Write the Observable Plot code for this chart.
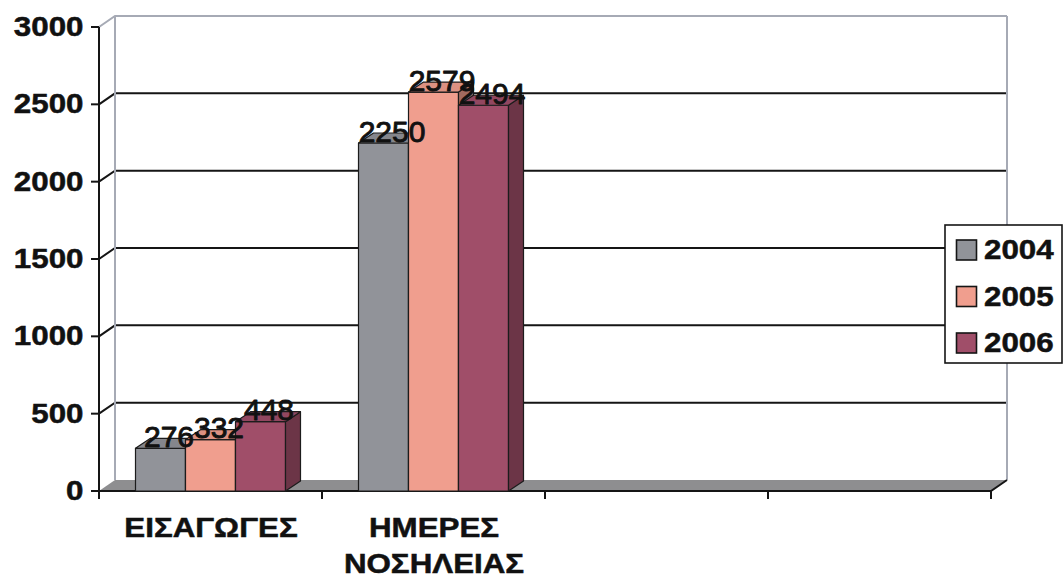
<!DOCTYPE html>
<html>
<head>
<meta charset="utf-8">
<script src="https://cdn.jsdelivr.net/npm/d3@7"></script>
<script src="https://cdn.jsdelivr.net/npm/@observablehq/plot@0.6"></script>
<style>
  html, body { margin: 0; padding: 0; background: #fff; }
</style>
</head>
<body>
<div id="chart"></div>
<script>
// Category slots along the floor (the last two are left empty)
const categories = ["ΕΙΣΑΓΩΓΕΣ", "ΗΜΕΡΕΣ\nΝΟΣΗΛΕΙΑΣ", "", " "];
const years = ["2004", "2005", "2006"];
const values2004 = [276, 2250];
const values2005 = [332, 2579];
const values2006 = [448, 2494];
const yTicks = [0, 500, 1000, 1500, 2000, 2500, 3000];
const yearColors = ["#919399", "#f09e8e", "#a04e69"];

const series = [values2004, values2005, values2006];
const rows = years.flatMap((year, k) =>
  series[k].map((value, i) => ({category: categories[i], year, k, value}))
);

// 3D look: offset of the back wall and of the column depth, in pixels
const wall = {dx: 16, dy: 11};
const col = {dx: 15, dy: 10};
const barWidth = 50;
// bold labels use a slightly widened Arial-like face
const wideScale = 1.16;

function bandOf(x) {
  const b = x.bandwidth;
  if (typeof b === "function") return b();
  if (typeof b === "number") return b;
  return x(categories[1]) - x(categories[0]);
}

// Back wall, side wall, gridlines, floor and axis lines
function scene(index, {x, y}) {
  const g = d3.create("svg:g");
  const bw = bandOf(x);
  const x0 = x(categories[0]);
  const x1 = x(categories[categories.length - 1]) + bw;
  const yb = y(0), yt = y(yTicks[yTicks.length - 1]);
  const wallGray = "#a6aab5";

  g.append("rect")
    .attr("x", x0 + wall.dx).attr("y", yt - wall.dy)
    .attr("width", x1 - x0).attr("height", yb - yt)
    .attr("fill", "#fff");

  for (const v of yTicks.slice(1)) {
    const yy = y(v);
    const top = v === yTicks[yTicks.length - 1];
    g.append("path")
      .attr("d", `M${x0},${yy}L${x0 + wall.dx},${yy - wall.dy}L${x1 + wall.dx},${yy - wall.dy}`)
      .attr("fill", "none")
      .attr("stroke", top ? wallGray : "#151515")
      .attr("stroke-width", 2);
  }
  // side wall corner and right edge of the back wall
  g.append("line")
    .attr("x1", x0 + wall.dx).attr("x2", x0 + wall.dx)
    .attr("y1", yt - wall.dy).attr("y2", yb - wall.dy)
    .attr("stroke", wallGray).attr("stroke-width", 2);
  g.append("line")
    .attr("x1", x1 + wall.dx).attr("x2", x1 + wall.dx)
    .attr("y1", yt - wall.dy).attr("y2", yb - wall.dy)
    .attr("stroke", wallGray).attr("stroke-width", 2);

  // floor
  g.append("path")
    .attr("d", `M${x0},${yb}L${x1},${yb}L${x1 + wall.dx},${yb - wall.dy}L${x0 + wall.dx},${yb - wall.dy}Z`)
    .attr("fill", "#8e8e90");
  g.append("path")
    .attr("d", `M${x0},${yb}L${x1},${yb}L${x1 + wall.dx},${yb - wall.dy}`)
    .attr("fill", "none").attr("stroke", "#151515").attr("stroke-width", 2);

  // front value axis and its ticks
  g.append("line")
    .attr("x1", x0).attr("x2", x0)
    .attr("y1", yt).attr("y2", yb + 8)
    .attr("stroke", "#151515").attr("stroke-width", 2);
  for (const v of yTicks) {
    g.append("line")
      .attr("x1", x0 - 8).attr("x2", x0)
      .attr("y1", y(v)).attr("y2", y(v))
      .attr("stroke", "#151515").attr("stroke-width", 2);
  }
  // category boundary ticks
  const bounds = categories.map((c) => x(c)).concat([x1]);
  for (const bx of bounds) {
    g.append("line")
      .attr("x1", bx).attr("x2", bx)
      .attr("y1", yb).attr("y2", yb + 8)
      .attr("stroke", "#151515").attr("stroke-width", 2);
  }
  return g.node();
}

// Columns with front, right side and top faces, drawn left to right
function columns(index, {x, y}) {
  const g = d3.create("svg:g");
  const bw = bandOf(x);
  const yb = y(0);
  const order = rows.slice().sort((a, b) =>
    categories.indexOf(a.category) - categories.indexOf(b.category) || a.k - b.k);
  for (const d of order) {
    const c = yearColors[d.k];
    const l = x(d.category) + bw / 2 + (d.k - 1) * barWidth - barWidth / 2;
    const r = l + barWidth;
    const t = y(d.value);
    const faces = [
      g.append("rect")
        .attr("x", l).attr("y", t).attr("width", barWidth).attr("height", yb - t)
        .attr("fill", c),
      g.append("path")
        .attr("d", `M${r},${yb}L${r + col.dx},${yb - col.dy}L${r + col.dx},${t - col.dy}L${r},${t}Z`)
        .attr("fill", d3.color(c).darker(1.1).formatHex()),
      g.append("path")
        .attr("d", `M${l},${t}L${r},${t}L${r + col.dx},${t - col.dy}L${l + col.dx},${t - col.dy}Z`)
        .attr("fill", d3.color(c).darker(0.25).formatHex())
    ];
    for (const el of faces) {
      el.attr("stroke", "#1c1c1c").attr("stroke-width", 1.2).attr("stroke-linejoin", "round");
    }
  }
  return g.node();
}

// Legend box on the right
function legend() {
  const g = d3.create("svg:g").attr("text-anchor", "start");
  g.append("rect")
    .attr("x", 945).attr("y", 225).attr("width", 117).attr("height", 138)
    .attr("fill", "#fff").attr("stroke", "#151515").attr("stroke-width", 1.6);
  years.forEach((yr, k) => {
    const cy = 250 + k * 46.5;
    g.append("rect")
      .attr("x", 956.5).attr("y", cy - 10).attr("width", 20).attr("height", 20)
      .attr("fill", yearColors[k]).attr("stroke", "#151515").attr("stroke-width", 1.6);
    g.append("text")
      .attr("transform", `translate(984,${cy})`)
      .attr("dy", "0.35em")
      .attr("text-anchor", "start")
      .attr("fill", "#111")
      .text(yr);
  });
  return g.node();
}

const valueMarks = years.map((yr, k) =>
  Plot.text(rows.filter((d) => d.k === k), {
    x: "category",
    y: "value",
    text: (d) => String(d.value),
    dx: (k - 1) * barWidth + 8,
    dy: -2,
    lineAnchor: "bottom",
    fontSize: 30,
    fontWeight: "normal",
    fill: "#111",
    stroke: "#111",
    strokeWidth: 0.9,
    ariaDescription: "value label"
  })
);

const chart = Plot.plot({
  width: 1064,
  height: 577,
  marginLeft: 97,
  marginRight: 72,
  marginTop: 27,
  marginBottom: 86,
  x: {type: "band", domain: categories, padding: 0, axis: null},
  y: {domain: [0, 3000], axis: null},
  style: {
    fontFamily: "'Liberation Sans', Arial, Helvetica, sans-serif",
    fontSize: "27px",
    fontWeight: "bold",
    color: "#111",
    background: "#fff",
    overflow: "visible"
  },
  marks: [
    scene,
    columns,
    ...valueMarks,
    Plot.text(yTicks, {
      y: (d) => d,
      text: (d) => String(d),
      frameAnchor: "left",
      textAnchor: "end",
      dx: -14,
      fill: "#111"
    }),
    Plot.text(categories.slice(0, 2), {
      x: (d) => d,
      text: (d) => d,
      frameAnchor: "bottom",
      lineAnchor: "top",
      dy: 19,
      lineHeight: 1.36,
      fill: "#111"
    }),
    legend
  ]
});

// Widen and slightly embolden the bold labels around their anchors
for (const t of chart.querySelectorAll("text")) {
  if (t.closest('[aria-description="value label"], [font-weight="normal"]')) continue;
  const tr = t.getAttribute("transform");
  if (tr && tr.includes("translate")) {
    t.setAttribute("transform", `${tr} scale(${wideScale},1)`);
  } else {
    const x = parseFloat(t.getAttribute("x")) || 0;
    const y = parseFloat(t.getAttribute("y")) || 0;
    t.setAttribute("x", 0);
    t.setAttribute("y", 0);
    t.setAttribute("transform", `translate(${x},${y}) scale(${wideScale},1)`);
  }
  t.setAttribute("stroke", "#111");
  t.setAttribute("stroke-width", 0.5);
}

document.getElementById("chart").appendChild(chart);
</script>
</body>
</html>
